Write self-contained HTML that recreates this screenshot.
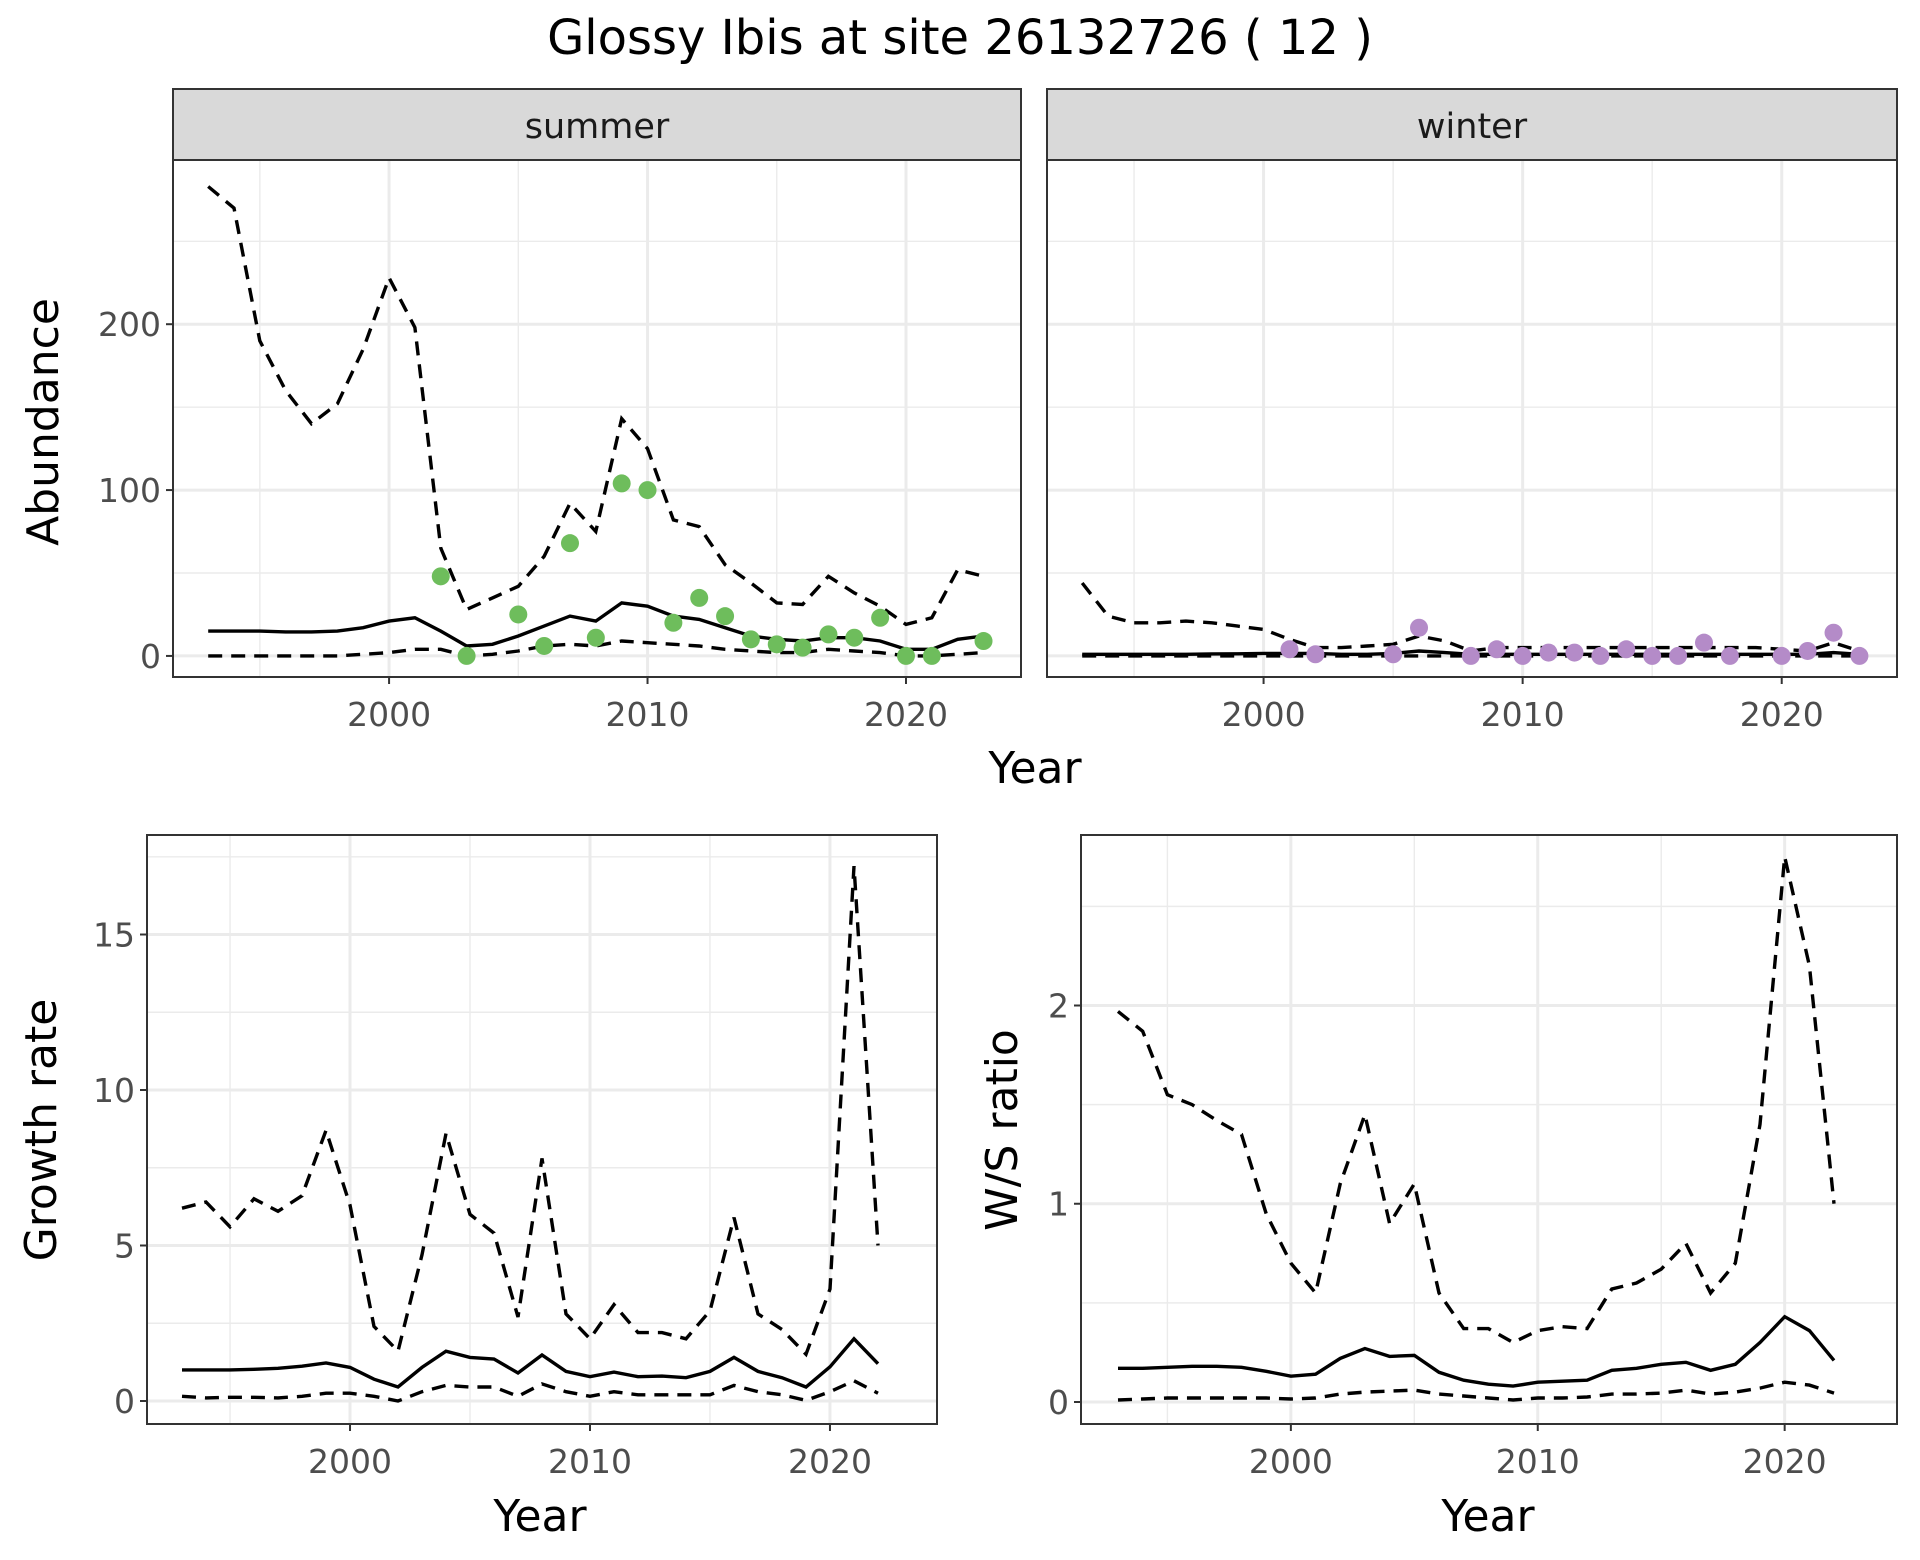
<!DOCTYPE html>
<html><head><meta charset="utf-8"><style>
body{margin:0;background:#fff}
svg{display:block;font-family:"DejaVu Sans","Liberation Sans",sans-serif}
</style></head><body>
<svg id="c" width="1920" height="1560" viewBox="0 0 1920 1560" xmlns="http://www.w3.org/2000/svg">
<rect width="1920" height="1560" fill="#fff"/>
<text x="960" y="54" text-anchor="middle" font-size="48" fill="#000">Glossy Ibis at site 26132726 ( 12 )</text>
</svg>
<script>
const yearsA = [1993,1994,1995,1996,1997,1998,1999,2000,2001,2002,2003,2004,2005,2006,2007,2008,2009,2010,2011,2012,2013,2014,2015,2016,2017,2018,2019,2020,2021,2022,2023];
const sumMean = [15,15,15,14.5,14.5,15,17,21,23,15,6,7,12,18,24,21,32,30,24,22,17,12,10,9,11,11,9,4,4,10,12];
const sumUpper = [283,270,190,160,140,152,185,228,198,65,28,35,42,60,92,75,143,125,82,78,55,44,32,31,48,38,30,19,23,52,48];
const sumLower = [0,0,0,0,0,0,1,2,4,4,0,1,3,6,7,6,9,8,7,6,4,3,2,2,4,3,2,0,0,1,2];
const sumPtYears = [2002,2003,2005,2006,2007,2008,2009,2010,2011,2012,2013,2014,2015,2016,2017,2018,2019,2020,2021,2023];
const sumPts = [48,0,25,6,68,11,104,100,20,35,24,10,7,5,13,11,23,0,0,9];
const winMean = [1,1,1,1,1,1.2,1.3,1.5,1.5,1.5,1,1,1.5,3,2,1,1,1,1,1,1,1,1,1,1,1,1,1,1,2,1];
const winUpper = [44,24,20,20,21,20,18,16,10,5,5,6,7,12,9,3,5,5,5,5,5,5,5,5,5,5,5,4,3,8,3];
const winLower = [0,0,0,0,0,0,0,0,0,0,0,0,0,0,0,0,0,0,0,0,0,0,0,0,0,0,0,0,0,0,0];
const winPtYears = [2001,2002,2005,2006,2008,2009,2010,2011,2012,2013,2014,2015,2016,2017,2018,2020,2021,2022,2023];
const winPts = [4,1,1,17,0,4,0,2,2,0,4,0,0,8,0,0,3,14,0];
const yearsB = [1993,1994,1995,1996,1997,1998,1999,2000,2001,2002,2003,2004,2005,2006,2007,2008,2009,2010,2011,2012,2013,2014,2015,2016,2017,2018,2019,2020,2021,2022];
const grMean = [1.0,1.0,1.0,1.02,1.05,1.12,1.22,1.08,0.7,0.45,1.08,1.6,1.4,1.35,0.9,1.48,0.95,0.78,0.93,0.78,0.8,0.75,0.95,1.4,0.95,0.75,0.45,1.1,2.0,1.2];
const grUpper = [6.2,6.4,5.6,6.5,6.1,6.6,8.7,6.3,2.4,1.6,4.7,8.6,6.0,5.4,2.7,7.8,2.8,2.0,3.1,2.2,2.2,2.0,2.9,5.9,2.8,2.3,1.5,3.6,17.2,5.0];
const grLower = [0.15,0.1,0.12,0.12,0.1,0.15,0.25,0.25,0.15,0.0,0.3,0.5,0.45,0.45,0.15,0.55,0.3,0.15,0.3,0.2,0.2,0.2,0.2,0.5,0.3,0.2,0.02,0.3,0.65,0.25];
const rtMean = [0.17,0.17,0.175,0.18,0.18,0.175,0.155,0.13,0.14,0.22,0.27,0.23,0.235,0.15,0.11,0.09,0.08,0.1,0.105,0.11,0.16,0.17,0.19,0.2,0.16,0.19,0.3,0.43,0.36,0.21];
const rtUpper = [1.97,1.87,1.55,1.5,1.42,1.35,0.95,0.7,0.55,1.1,1.45,0.9,1.1,0.55,0.37,0.37,0.3,0.36,0.38,0.37,0.57,0.6,0.67,0.8,0.55,0.7,1.4,2.75,2.2,1.0];
const rtLower = [0.01,0.015,0.02,0.02,0.02,0.02,0.02,0.015,0.02,0.04,0.05,0.055,0.06,0.04,0.03,0.02,0.01,0.02,0.02,0.025,0.04,0.04,0.045,0.06,0.04,0.05,0.07,0.1,0.085,0.045];
const xTicks = [2000,2010,2020];
const xMinor = [1995,2005,2015];
const abTicks = [0,100,200];
const abMinor = [50,150,250];
const grTicks = [0,5,10,15];
const grMinor = [2.5,7.5,12.5,17.5];
const rtTicks = [0,1,2];
const rtMinor = [0.5,1.5,2.5];

const svg = document.getElementById('c');
const NS = 'http://www.w3.org/2000/svg';
function mk(tag, attrs, parent){const e=document.createElementNS(NS,tag);for(const k in attrs)e.setAttribute(k,attrs[k]);(parent||svg).appendChild(e);return e;}

function panel(p){
  const g = mk('g',{});
  
  
  const sx = v => p.x0 + (v - p.xmin)/(p.xmax - p.xmin)*(p.x1 - p.x0);
  const sy = v => p.y1 - (v - p.ymin)/(p.ymax - p.ymin)*(p.y1 - p.y0);
  p.yMinor.forEach(v=>{const l=mk('line',{x1:p.x0,x2:p.x1,y1:sy(v),y2:sy(v),stroke:'#ebebeb','stroke-width':1.4},g);});
  xMinor.forEach(v=>{const l=mk('line',{x1:sx(v),x2:sx(v),y1:p.y0,y2:p.y1,stroke:'#ebebeb','stroke-width':1.4},g);});
  p.yTicks.forEach(v=>{const l=mk('line',{x1:p.x0,x2:p.x1,y1:sy(v),y2:sy(v),stroke:'#ebebeb','stroke-width':3},g);});
  xTicks.forEach(v=>{const l=mk('line',{x1:sx(v),x2:sx(v),y1:p.y0,y2:p.y1,stroke:'#ebebeb','stroke-width':3},g);});
  const line=(ys,vals,dash,nm)=>{const d=ys.map((y,i)=>(i?'L':'M')+sx(y).toFixed(1)+' '+sy(vals[i]).toFixed(1)).join(' ');const e=mk('path',{d:d,fill:'none',stroke:'#000','stroke-width':3.4,'stroke-dasharray':dash||'none'},g);};
  line(p.years,p.upper,'14,9','upper-bound-line');
  line(p.years,p.lower,'14,9','lower-bound-line');
  line(p.years,p.mean,null,'mean-line');
  if(p.pts){p.ptYears.forEach((y,i)=>{const c=mk('circle',{cx:sx(y),cy:sy(p.pts[i]),r:9,fill:p.color},g);});}
  const b=mk('rect',{x:p.x0,y:p.y0,width:p.x1-p.x0,height:p.y1-p.y0,fill:'none',stroke:'#333','stroke-width':2},g);
  
  xTicks.forEach(v=>{mk('line',{x1:sx(v),x2:sx(v),y1:p.y1,y2:p.y1+7,stroke:'#333','stroke-width':2},g);const t=mk('text',{x:sx(v),y:p.y1+49,'text-anchor':'middle','font-size':33,fill:'#4d4d4d'},g);t.textContent=v;});
  if(p.showY){p.yTicks.forEach(v=>{mk('line',{x1:p.x0-7,x2:p.x0,y1:sy(v),y2:sy(v),stroke:'#333','stroke-width':2},g);const t=mk('text',{x:p.x0-12,y:sy(v)+12,'text-anchor':'end','font-size':33,fill:'#4d4d4d'},g);t.textContent=v;});}
  if(p.strip){const s=mk('rect',{x:p.x0,y:89,width:p.x1-p.x0,height:71,fill:'#d9d9d9',stroke:'#333','stroke-width':2},g);const t=mk('text',{x:(p.x0+p.x1)/2,y:138,'text-anchor':'middle','font-size':35,fill:'#1a1a1a'},g);t.textContent=p.strip;}
}
panel({name:'summer-panel',x0:173,x1:1021,y0:160,y1:677,xmin:1991.64,xmax:2024.45,ymin:-12.7,ymax:299,years:yearsA,mean:sumMean,upper:sumUpper,lower:sumLower,ptYears:sumPtYears,pts:sumPts,color:'#6ebd5c',yTicks:abTicks,yMinor:abMinor,showY:true,strip:'summer'});
panel({name:'winter-panel',x0:1047,x1:1897,y0:160,y1:677,xmin:1991.64,xmax:2024.45,ymin:-12.7,ymax:299,years:yearsA,mean:winMean,upper:winUpper,lower:winLower,ptYears:winPtYears,pts:winPts,color:'#b48bc8',yTicks:abTicks,yMinor:abMinor,showY:false,strip:'winter'});
panel({name:'growth-rate-panel',x0:147,x1:937,y0:835,y1:1424,xmin:1991.54,xmax:2024.46,ymin:-0.74,ymax:18.2,years:yearsB,mean:grMean,upper:grUpper,lower:grLower,yTicks:grTicks,yMinor:grMinor,showY:true});
panel({name:'ws-ratio-panel',x0:1081,x1:1897,y0:835,y1:1424,xmin:1991.5,xmax:2024.55,ymin:-0.111,ymax:2.86,years:yearsB,mean:rtMean,upper:rtUpper,lower:rtLower,yTicks:rtTicks,yMinor:rtMinor,showY:true});
function label(txt,x,y,rot,nm){const t=mk('text',{x:x,y:y,'text-anchor':'middle','font-size':44,fill:'#000',transform:rot?`rotate(-90 ${x} ${y})`:''});t.textContent=txt;}
label('Year',1035,783,false,'x-axis-title-top');
label('Abundance',58,422,true,'y-axis-title-abundance');
label('Year',540,1531,false,'x-axis-title-growth');
label('Growth rate',56,1130,true,'y-axis-title-growth');
label('Year',1488,1531,false,'x-axis-title-ratio');
label('W/S ratio',1017,1130,true,'y-axis-title-ratio');
</script>
</body></html>
